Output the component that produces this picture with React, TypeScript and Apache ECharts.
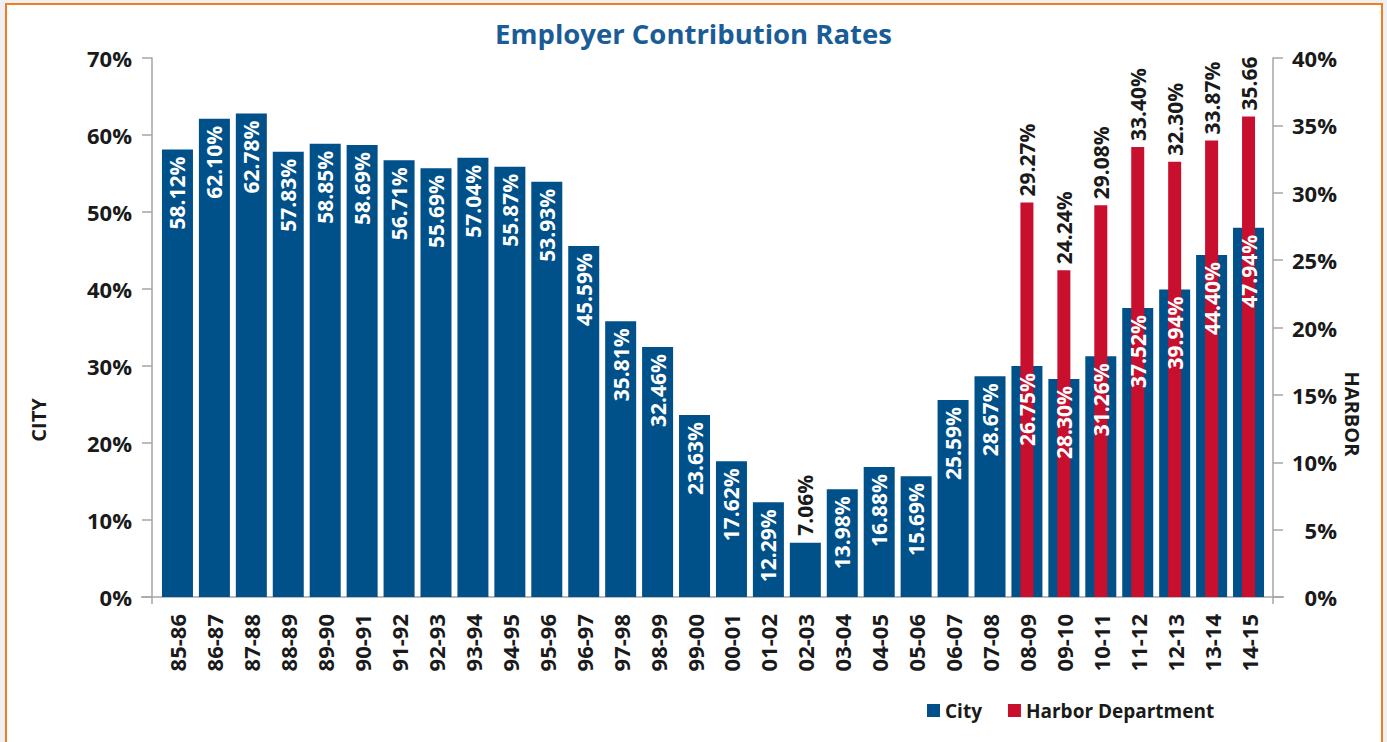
import React, { useEffect, useRef } from "react";
import * as echarts from "echarts";

const categories = ["85-86","86-87","87-88","88-89","89-90","90-91","91-92","92-93","93-94","94-95","95-96","96-97","97-98","98-99","99-00","00-01","01-02","02-03","03-04","04-05","05-06","06-07","07-08","08-09","09-10","10-11","11-12","12-13","13-14","14-15"];
// City bar heights
const cityValues = [58.12,62.10,62.78,57.83,58.85,58.69,56.71,55.69,57.04,55.87,53.93,45.59,35.81,32.46,23.63,17.62,12.29,7.06,13.98,16.88,15.69,25.59,28.67,30.0,28.30,31.26,37.52,39.94,44.40,47.94];
// City labels as printed
const cityLabels = ["58.12%","62.10%","62.78%","57.83%","58.85%","58.69%","56.71%","55.69%","57.04%","55.87%","53.93%","45.59%","35.81%","32.46%","23.63%","17.62%","12.29%","7.06%","13.98%","16.88%","15.69%","25.59%","28.67%","26.75%","28.30%","31.26%","37.52%","39.94%","44.40%","47.94%"];
const harborValues = [null,null,null,null,null,null,null,null,null,null,null,null,null,null,null,null,null,null,null,null,null,null,null,29.27,24.24,29.08,33.40,32.30,33.87,35.66];
const harborLabels = ["","","","","","","","","","","","","","","","","","","","","","","","29.27%","24.24%","29.08%","33.40%","32.30%","33.87%","35.66"];

const FONT = "'Open Sans', 'Noto Sans', sans-serif";
const BLUE = "#00508a";
const RED = "#c8102e";
const AXIS = "#a6a6a6";

export default function App() {
  const ref = useRef<HTMLDivElement>(null);
  useEffect(() => {
    if (!ref.current) return;
    const chart = echarts.init(ref.current, null, { renderer: "svg" });
    const labelData = cityValues.map((v) =>
      v < 10
        ? { value: v, label: { position: "top", align: "left", color: "#1a1a1a" } }
        : { value: v }
    );
    chart.setOption({
      animation: false,
      textStyle: { fontFamily: FONT },
      title: {
        text: "Employer Contribution Rates",
        left: "center",
        top: 14,
        textStyle: { color: "#1a5c96", fontSize: 27.5, fontWeight: "bold", fontFamily: FONT },
      },
      legend: {
        left: 922,
        top: 696,
        itemWidth: 13,
        itemHeight: 13,
        itemGap: 26,
        icon: "rect",
        textStyle: { fontSize: 19, fontWeight: "bold", color: "#1a1a1a", fontFamily: FONT },
        data: ["City", "Harbor Department"],
      },
      grid: { left: 159, right: 120, top: 58, bottom: 145, containLabel: false },
      xAxis: [
        {
          type: "category",
          data: categories,
          axisLine: { show: false },
          axisTick: { show: false },
          axisLabel: {
            rotate: 90,
            margin: 17,
            interval: 0,
            color: "#1a1a1a",
            fontSize: 22,
            fontWeight: "bold",
            fontFamily: FONT,
          },
        },
        {
          type: "category",
          data: categories,
          show: false,
          position: "bottom",
        },
      ],
      yAxis: [
        {
          type: "value",
          min: 0,
          max: 70,
          interval: 10,
          position: "left",
          offset: 7,
          axisLine: { show: true, lineStyle: { color: AXIS, width: 1.5 } },
          axisTick: { show: true, length: 10, lineStyle: { color: AXIS, width: 1.5 } },
          splitLine: { show: false },
          axisLabel: {
            formatter: "{value}%",
            margin: 20,
            color: "#1a1a1a",
            fontSize: 22,
            fontWeight: "bold",
            fontFamily: FONT,
          },
        },
        {
          type: "value",
          min: 0,
          max: 40,
          interval: 5,
          position: "right",
          offset: 6,
          axisLine: { show: true, lineStyle: { color: AXIS, width: 1.5 } },
          axisTick: { show: true, length: 10, lineStyle: { color: AXIS, width: 1.5 } },
          splitLine: { show: false },
          axisLabel: {
            formatter: "{value}%",
            margin: 64,
            align: "right",
            color: "#1a1a1a",
            fontSize: 22,
            fontWeight: "bold",
            fontFamily: FONT,
          },
        },
      ],
      series: [
        {
          name: "City",
          type: "bar",
          xAxisIndex: 0,
          yAxisIndex: 0,
          barWidth: 31,
          barGap: "-100%",
          itemStyle: { color: BLUE },
          z: 2,
          data: cityValues,
        },
        {
          name: "Harbor Department",
          type: "bar",
          xAxisIndex: 1,
          yAxisIndex: 1,
          barWidth: 13,
          itemStyle: { color: RED },
          z: 3,
          label: {
            show: true,
            position: "top",
            rotate: 90,
            align: "left",
            verticalAlign: "middle",
            distance: 6,
            color: "#1a1a1a",
            fontSize: 21,
            fontWeight: "bold",
            fontFamily: FONT,
            formatter: (p: any) => harborLabels[p.dataIndex],
          },
          data: harborValues,
        },
        {
          name: "City labels",
          type: "bar",
          xAxisIndex: 0,
          yAxisIndex: 0,
          barWidth: 31,
          barGap: "-100%",
          itemStyle: { color: "rgba(0,0,0,0)" },
          silent: true,
          z: 5,
          label: {
            show: true,
            position: "insideTop",
            rotate: 90,
            align: "right",
            verticalAlign: "middle",
            distance: 7,
            color: "#ffffff",
            fontSize: 21,
            fontWeight: "bold",
            fontFamily: FONT,
            formatter: (p: any) => cityLabels[p.dataIndex],
          },
          data: labelData,
        },
      ],
      graphic: [
        {
          type: "line",
          shape: { x1: 141, y1: 597, x2: 1284, y2: 597 },
          style: { stroke: AXIS, lineWidth: 1.5 },
          z: 1,
        },
        {
          type: "line",
          shape: { x1: 152, y1: 597, x2: 152, y2: 604 },
          style: { stroke: AXIS, lineWidth: 1.5 },
          z: 1,
        },
        {
          type: "line",
          shape: { x1: 1273, y1: 597, x2: 1273, y2: 604 },
          style: { stroke: AXIS, lineWidth: 1.5 },
          z: 1,
        },
        {
          type: "text",
          x: 38,
          y: 420,
          rotation: Math.PI / 2,
          style: {
            text: "CITY",
            fill: "#1a1a1a",
            font: `bold 20px ${FONT}`,
            align: "center",
            verticalAlign: "middle",
          },
        },
        {
          type: "text",
          x: 1352,
          y: 414,
          rotation: -Math.PI / 2,
          style: {
            text: "HARBOR",
            fill: "#1a1a1a",
            font: `bold 20px ${FONT}`,
            align: "center",
            verticalAlign: "middle",
          },
        },
      ],
    });
    return () => chart.dispose();
  }, []);

  return (
    <div style={{ position: "fixed", left: 0, top: 0, width: 1387, height: 742, background: "#eef0f3", overflow: "hidden" }}>
      <div
        style={{
          position: "absolute",
          left: 5,
          top: 3,
          width: 1374,
          height: 800,
          border: "2px solid #f47c20",
          background: "#ffffff",
        }}
      />
      <div ref={ref} style={{ position: "absolute", left: 0, top: 0, width: 1387, height: 742 }} />
    </div>
  );
}
